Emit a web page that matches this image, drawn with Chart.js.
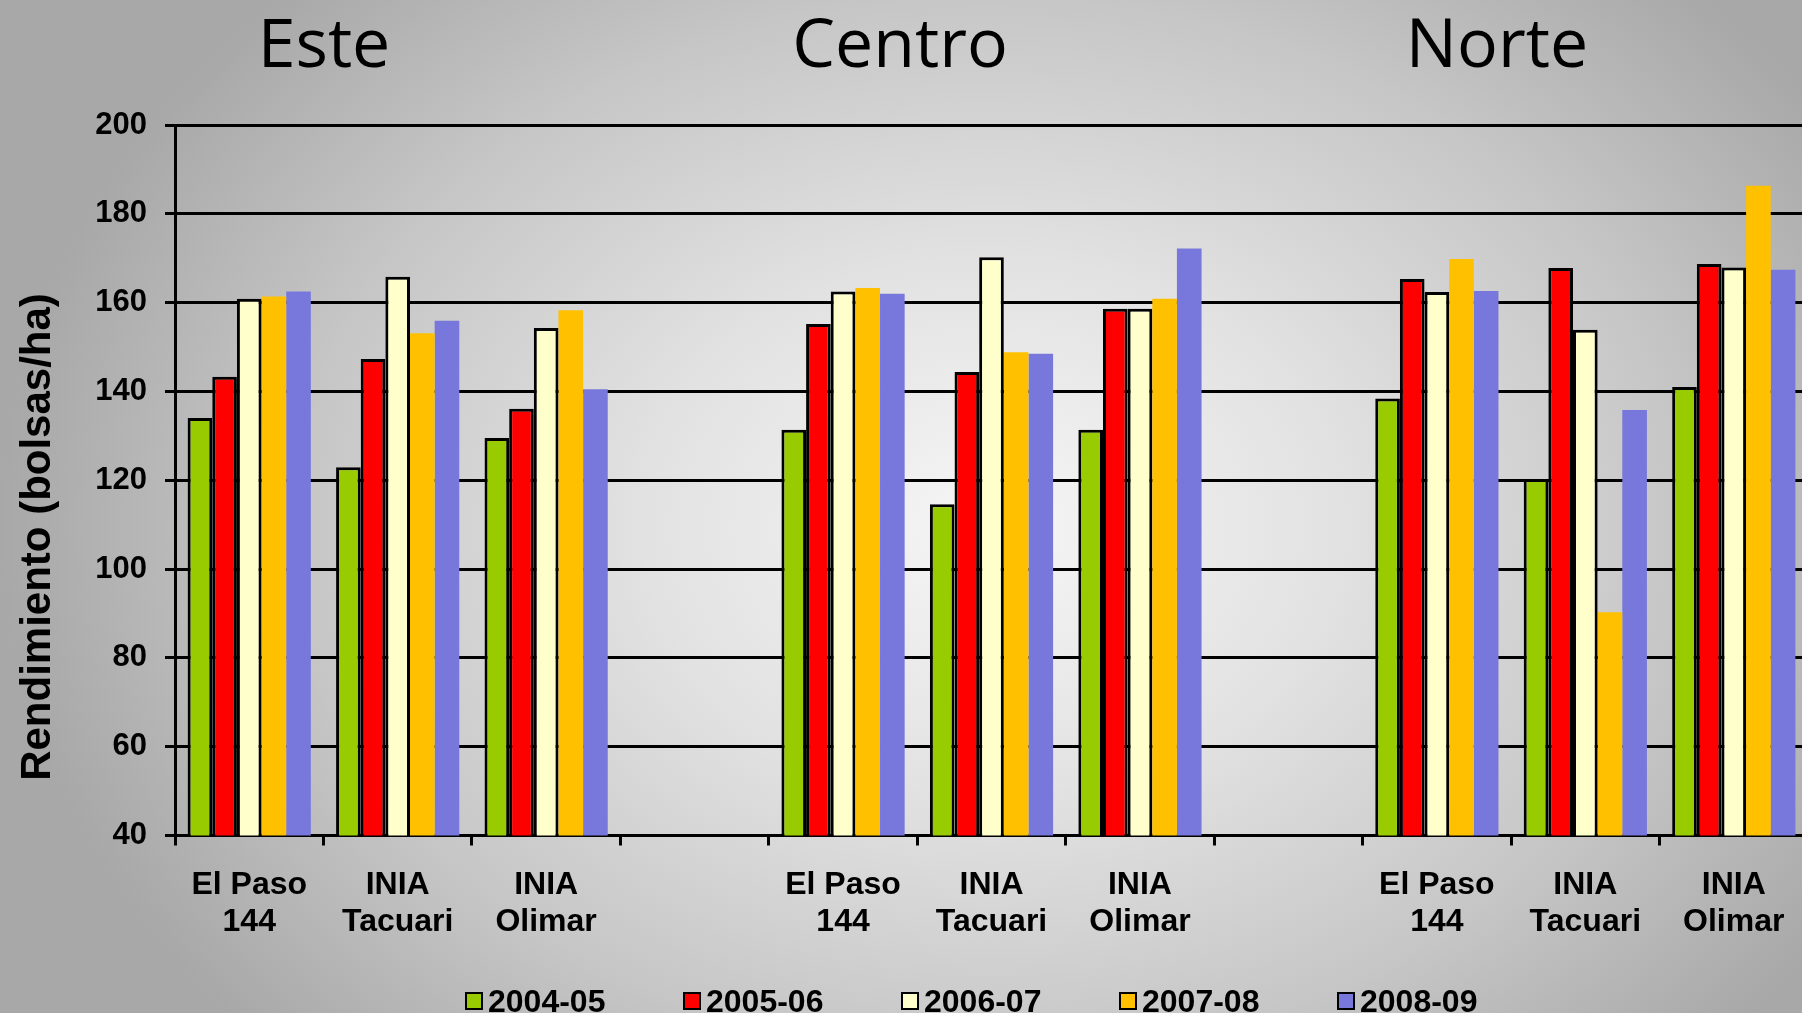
<!DOCTYPE html>
<html>
<head>
<meta charset="utf-8">
<script src="https://cdn.jsdelivr.net/npm/chart.js@4.4.1/dist/chart.umd.min.js"></script>
<style>
    html, body {
        margin: 0;
        padding: 0;
        width: 1802px;
        height: 1013px;
        overflow: hidden;
    }
    body {
        position: relative;
        background: radial-gradient(ellipse 55% 75% at 55% 52%, #f6f6f6 0%, #e2e2e2 35%, #c6c6c6 70%, #a8a8a8 100%);
        font-family: "Liberation Sans", Arial, sans-serif;
    }
    #chart {
        position: absolute;
        left: 0;
        top: 0;
    }
    .region {
        position: absolute;
        top: 6px;
        font-family: "Open Sans", sans-serif;
        font-size: 68px;
        line-height: 69px;
        color: #000;
        transform: translateX(-50%);
        white-space: nowrap;
    }
    #yTitle {
        position: absolute;
        left: 36px;
        top: 537px;
        width: 700px;
        text-align: center;
        font-weight: bold;
        font-size: 42px;
        line-height: 42px;
        transform: translate(-50%, -50%) rotate(-90deg);
        white-space: nowrap;
    }
    #legend {
        position: absolute;
        left: 465px;
        top: 984px;
        height: 34px;
        display: flex;
    }
    .item {
        width: 218px;
        display: flex;
        align-items: center;
        font-size: 32px;
        font-weight: bold;
        line-height: 34px;
    }
    .box {
        width: 14px;
        height: 14px;
        border: 2px solid #000;
        margin-right: 5px;
    }
</style>
</head>
<body>
<canvas id="chart" width="1808" height="1013"></canvas>
<div class="region" style="left:324px">Este</div>
<div class="region" style="left:900px">Centro</div>
<div class="region" style="left:1497px">Norte</div>
<div id="yTitle">Rendimiento (bolsas/ha)</div>
<div id="legend"></div>
<script>
// =====================
// Datos (rendimiento por zona y cultivar)
// =====================
const categories = [
    ["El Paso", "144"], ["INIA", "Tacuari"], ["INIA", "Olimar"], "",
    ["El Paso", "144"], ["INIA", "Tacuari"], ["INIA", "Olimar"], "",
    ["El Paso", "144"], ["INIA", "Tacuari"], ["INIA", "Olimar"]
];
const seriesNames = ["2004-05", "2005-06", "2006-07", "2007-08", "2008-09"];
const zafra0405 = [134.0, 122.9, 129.5, null, 131.4, 114.6, 131.4, null, 138.4, 120.3, 141.0];
const zafra0506 = [143.3, 147.3, 136.1, null, 155.2, 144.4, 158.6, null, 165.3, 167.8, 168.7];
const zafra0607 = [160.9, 165.8, 154.3, null, 162.5, 170.2, 158.6, null, 162.4, 153.9, 167.9];
const zafra0708 = [161.4, 153.1, 158.3, null, 163.3, 148.8, 160.9, null, 169.8, 90.3, 186.3];
const zafra0809 = [162.5, 155.9, 140.5, null, 162.0, 148.5, 172.2, null, 162.6, 135.8, 167.4];
const yTicks = [40, 60, 80, 100, 120, 140, 160, 180, 200];

const seriesValues = [zafra0405, zafra0506, zafra0607, zafra0708, zafra0809];
const seriesColors = ["#99cc00", "#ff0000", "#ffffcc", "#ffc000", "#7878dc"];
const seriesBorder = [3, 3, 3, 0, 0];

// leyenda abajo
const legend = document.getElementById("legend");
seriesNames.forEach((name, i) => {
    const item = document.createElement("div");
    item.className = "item";
    item.innerHTML = '<span class="box" style="background:' + seriesColors[i] + '"></span>' + name;
    legend.appendChild(item);
});

new Chart(document.getElementById("chart"), {
    type: "bar",
    data: {
        labels: categories,
        datasets: seriesNames.map((name, i) => ({
            label: name,
            data: seriesValues[i],
            backgroundColor: seriesColors[i],
            borderColor: "#000",
            borderWidth: seriesBorder[i],
            borderSkipped: false,
            categoryPercentage: 0.83,
            barPercentage: 1.0
        }))
    },
    options: {
        responsive: false,
        animation: false,
        layout: { padding: { top: 125, right: 0, bottom: 0, left: 0 } },
        plugins: {
            legend: { display: false },
            tooltip: { enabled: false }
        },
        scales: {
            x: {
                afterFit: s => { s.height = 177.5; },
                grid: {
                    display: true,
                    drawOnChartArea: false,
                    drawTicks: true,
                    offset: true,
                    tickLength: 10,
                    color: "#000",
                    lineWidth: 3
                },
                border: { display: true, color: "#000", width: 3 },
                ticks: {
                    color: "#000",
                    font: {
                        family: "'Liberation Sans', Arial, sans-serif",
                        size: 32,
                        weight: "bold",
                        lineHeight: 1.15
                    },
                    padding: 21,
                    maxRotation: 0,
                    autoSkip: false
                }
            },
            y: {
                min: 40,
                max: 200,
                afterFit: s => { s.width = 175; },
                afterBuildTicks: s => { s.ticks = yTicks.map(v => ({ value: v })); },
                grid: {
                    color: "#000",
                    lineWidth: 3,
                    tickLength: 10
                },
                border: { display: true, color: "#000", width: 3 },
                ticks: {
                    color: "#000",
                    font: { family: "'Liberation Sans', Arial, sans-serif", size: 31, weight: "bold" },
                    padding: 18
                }
            }
        }
    }
});
</script>
</body>
</html>
